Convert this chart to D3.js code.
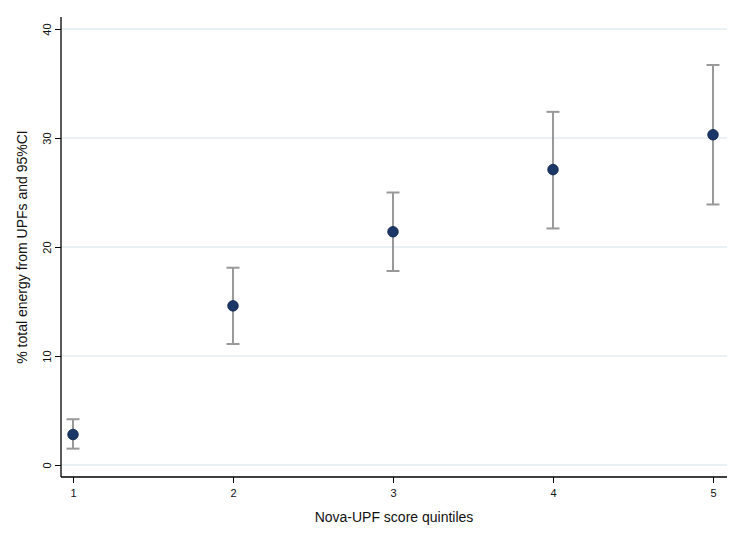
<!DOCTYPE html>
<html><head><meta charset="utf-8">
<script src="https://cdn.jsdelivr.net/npm/d3@7"></script>
<style>body{margin:0;background:#fff}svg{display:block}text{font-family:"Liberation Sans",Arial,sans-serif;fill:#111}</style>
</head><body>
<script>
const quintiles = [1, 2, 3, 4, 5];
const meanValues = [2.8, 14.6, 21.4, 27.1, 30.3];
const ciLower = [1.5, 11.1, 17.8, 21.7, 23.9];
const ciUpper = [4.2, 18.1, 25.0, 32.4, 36.7];
const yTicks = [0, 10, 20, 30, 40];
const xLabel = "Nova-UPF score quintiles";
const yLabel = "% total energy from UPFs and 95%CI";

(function(){
const W = 744, H = 539;
const svg = d3.select("body").append("svg").attr("width", W).attr("height", H);
const pL = 61, pR = 727, pT = 17, pB = 477;
const x = d3.scaleLinear().domain([1, 5]).range([73, 713]);
const y = d3.scaleLinear().domain([0, 40]).range([465, 29]);

// gridlines
svg.append("g").selectAll("line").data(yTicks).join("line")
  .attr("x1", pL).attr("x2", pR).attr("y1", d=>y(d)).attr("y2", d=>y(d))
  .attr("stroke", "#e2edf0").attr("stroke-width", 1.5);

// y axis
const ya = svg.append("g").attr("transform", `translate(${pL},0)`)
  .call(d3.axisLeft(y).tickValues(yTicks).tickSize(6).tickPadding(4));
ya.select(".domain").attr("d", `M0,${pT}V${pB}`).attr("stroke", "#000").attr("stroke-width", 1.3);
ya.selectAll(".tick line").attr("stroke", "#000");
ya.selectAll(".tick text").attr("transform", "rotate(-90)").attr("x", 0).attr("y", -14)
  .attr("dy", "0.35em").attr("text-anchor", "middle").style("font-size", "11px");

// x axis
const xa = svg.append("g").attr("transform", `translate(0,${pB})`)
  .call(d3.axisBottom(x).tickValues(quintiles).tickFormat(d3.format("d")).tickSize(6).tickPadding(6));
xa.select(".domain").attr("d", `M${pL},0H${pR}`).attr("stroke", "#000").attr("stroke-width", 1.3);
xa.selectAll(".tick line").attr("stroke", "#000");
xa.selectAll(".tick text").style("font-size", "11px");

// error bars
const g = svg.append("g");
const cap = 6.5;
quintiles.forEach((q, i) => {
  const cx = x(q);
  g.append("line").attr("x1", cx).attr("x2", cx).attr("y1", y(ciLower[i])).attr("y2", y(ciUpper[i]))
    .attr("stroke", "#999").attr("stroke-width", 2);
  [ciLower[i], ciUpper[i]].forEach(v => {
    g.append("line").attr("x1", cx-cap).attr("x2", cx+cap).attr("y1", y(v)).attr("y2", y(v))
      .attr("stroke", "#999").attr("stroke-width", 2);
  });
});
g.selectAll("circle").data(quintiles).join("circle")
  .attr("cx", d=>x(d)).attr("cy", (d,i)=>y(meanValues[i])).attr("r", 5.3)
  .attr("fill", "#1a3767").attr("stroke", "#0f2346").attr("stroke-width", 0.8);

svg.append("text").attr("x", (pL+pR)/2).attr("y", 522).attr("text-anchor", "middle")
  .style("font-size", "14px").text(xLabel);
svg.append("text").attr("transform", `translate(27,${(pT+pB)/2}) rotate(-90)`).attr("text-anchor", "middle")
  .style("font-size", "14px").text(yLabel);
})();
</script>
</body></html>
